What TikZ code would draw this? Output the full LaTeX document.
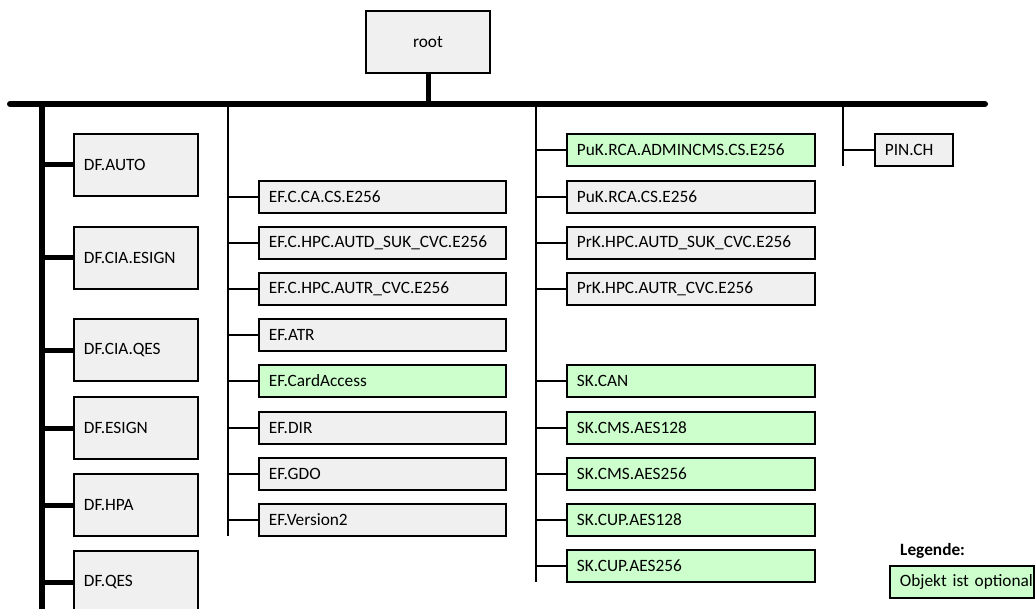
\documentclass[tikz,border=0pt]{standalone}
\usepackage{fontspec}
\setmainfont{Carlito}
\definecolor{boxgray}{HTML}{F0F0F0}
\definecolor{optgreen}{HTML}{CCFFCC}
\begin{document}
\begin{tikzpicture}[x=1pt,y=-1pt,
  every node/.style={font=\fontsize{17.3}{20}\selectfont},
  basebox/.style={draw=black, line width=1.8pt, fill=boxgray, anchor=west, inner xsep=10pt, inner ysep=0pt, align=left},
  opt/.style={fill=optgreen},
  dfbox/.style={basebox, text width=104pt, minimum height=62pt},
  efbox/.style={basebox, text width=227pt, minimum height=32pt},
  mbox/.style={basebox, text width=228pt, minimum height=32pt},
  bus/.style={line width=6pt, line cap=round},
  thick branch/.style={line width=5pt},
  thin branch/.style={line width=1.8pt}]
\useasboundingbox (0,0) rectangle (1035,609);
% root
\node[draw=black, line width=1.8pt, fill=boxgray, minimum width=124pt, minimum height=62pt] (root) at (428,42) {root};
% bus coordinates
\coordinate (busL) at (10,104);
\coordinate (busR) at (985,104);
\coordinate (dfTop) at (42,104);
\coordinate (dfBot) at (42,612);
\coordinate (efTop) at (228,104);
\coordinate (efBot) at (228,536);
\coordinate (mTop) at (536,104);
\coordinate (mBot) at (536,582);
\coordinate (pTop) at (843,104);
\coordinate (pBot) at (843,166);
% DF boxes
\node[dfbox] (df1) at (73,165) {DF.AUTO};
\node[dfbox] (df2) at (73,258) {DF.CIA.ESIGN};
\node[dfbox] (df3) at (73,350) {DF.CIA.QES};
\node[dfbox] (df4) at (73,428) {DF.ESIGN};
\node[dfbox] (df5) at (73,505) {DF.HPA};
\node[dfbox] (df6) at (73,582) {DF.QES};
% EF boxes
\node[efbox] (ef1) at (258,197) {EF.C.CA.CS.E256};
\node[efbox] (ef2) at (258,243) {EF.C.HPC.AUTD\_SUK\_CVC.E256};
\node[efbox] (ef3) at (258,289) {EF.C.HPC.AUTR\_CVC.E256};
\node[efbox] (ef4) at (258,335) {EF.ATR};
\node[efbox,opt] (ef5) at (258,381) {EF.CardAccess};
\node[efbox] (ef6) at (258,428) {EF.DIR};
\node[efbox] (ef7) at (258,474) {EF.GDO};
\node[efbox] (ef8) at (258,520) {EF.Version2};
% middle boxes
\node[mbox,opt] (m1) at (566,150) {PuK.RCA.ADMINCMS.CS.E256};
\node[mbox] (m2) at (566,197) {PuK.RCA.CS.E256};
\node[mbox] (m3) at (566,243) {PrK.HPC.AUTD\_SUK\_CVC.E256};
\node[mbox] (m4) at (566,289) {PrK.HPC.AUTR\_CVC.E256};
\node[mbox,opt] (m5) at (566,381) {SK.CAN};
\node[mbox,opt] (m6) at (566,428) {SK.CMS.AES128};
\node[mbox,opt] (m7) at (566,474) {SK.CMS.AES256};
\node[mbox,opt] (m8) at (566,520) {SK.CUP.AES128};
\node[mbox,opt] (m9) at (566,566) {SK.CUP.AES256};
% PIN
\node[basebox, text width=58pt, minimum height=32pt] (pin) at (874,150) {PIN.CH};
% legend
\node[anchor=west, inner sep=0pt, font=\fontsize{17.3}{20}\selectfont\bfseries] (legtitle) at (900,551) {Legende:};
\node[basebox, opt, inner xsep=5pt, text width=134pt, minimum height=32pt] (leg) at (889,582) {\mbox{\hspace*{5pt}Objekt ist optional}};
% connectors
\draw[thick branch] (root.south) -- (root.south |- busL);
\draw[bus] (busL) -- (busR);
\draw[line width=6pt] (dfTop) -- (dfBot);
\foreach \n in {df1,df2,df3,df4,df5,df6} \draw[thick branch] (\n.west -| dfTop) -- (\n.west);
\draw[thin branch] (efTop) -- (efBot);
\foreach \n in {ef1,ef2,ef3,ef4,ef5,ef6,ef7,ef8} \draw[thin branch] (\n.west -| efTop) -- (\n.west);
\draw[thin branch] (mTop) -- (mBot);
\foreach \n in {m1,m2,m3,m4,m5,m6,m7,m8,m9} \draw[thin branch] (\n.west -| mTop) -- (\n.west);
\draw[thin branch] (pTop) -- (pBot);
\draw[thin branch] (pin.west -| pTop) -- (pin.west);
\end{tikzpicture}
\end{document}
